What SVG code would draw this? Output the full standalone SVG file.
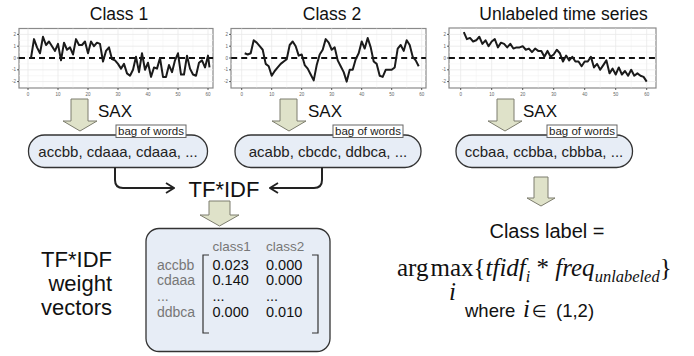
<svg xmlns="http://www.w3.org/2000/svg" width="694" height="356" viewBox="0 0 694 356">
<defs>
<style>
.title{font-family:"Liberation Sans",Arial,sans-serif;font-size:17.5px;fill:#111;text-anchor:middle}
.sax{font-family:"Liberation Sans",Arial,sans-serif;font-size:17px;fill:#111}
.bubble{fill:#e7edf6;stroke:#333;stroke-width:1.3}
.words{font-family:"Liberation Sans",Arial,sans-serif;font-size:15px;fill:#222;text-anchor:middle}
.bag{fill:#fff;stroke:#666;stroke-width:1}
.bagt{font-family:"Liberation Sans",Arial,sans-serif;font-size:11.5px;fill:#222;text-anchor:middle}
.blk{fill:#dfe2c9;stroke:#7d7d6e;stroke-width:1}
.conn{fill:none;stroke:#222;stroke-width:2}
.grid{fill:none;stroke:#e8e8e8;stroke-width:0.8;vector-effect:non-scaling-stroke}
.gridm{fill:none;stroke:#f3f3f3;stroke-width:0.6;vector-effect:non-scaling-stroke}
.zero{fill:none;stroke:#111;stroke-width:2;stroke-dasharray:6 4;vector-effect:non-scaling-stroke}
.ts{fill:none;stroke:#1a1a1a;stroke-width:2;stroke-linejoin:round;vector-effect:non-scaling-stroke}
.panel{fill:#fff;stroke:#8a8a8a;stroke-width:1.2}
.tick{font-family:"Liberation Sans",Arial,sans-serif;font-size:4.5px;fill:#666}
.tk{stroke:#333;stroke-width:0.8}
.big{font-family:"Liberation Sans",Arial,sans-serif;font-size:22px;fill:#111}
.mat{fill:#e7edf6;stroke:#333;stroke-width:1.3}
.hdr{font-family:"Liberation Sans",Arial,sans-serif;font-size:13.5px;fill:#777}
.rl{font-family:"Liberation Sans",Arial,sans-serif;font-size:14px;fill:#777}
.num{font-family:"Liberation Sans",Arial,sans-serif;font-size:14.5px;fill:#111}
.brk{fill:none;stroke:#333;stroke-width:1.2}
.lbl{font-family:"Liberation Sans",Arial,sans-serif;font-size:20px;fill:#111;text-anchor:middle}
.fx{font-family:"Liberation Serif","Times New Roman",serif;font-size:25px;fill:#111}
.wh{font-family:"Liberation Sans",Arial,sans-serif;font-size:18.5px;fill:#111}
</style>
<marker id="chev" viewBox="0 0 10 12" refX="9" refY="6" markerWidth="10" markerHeight="12" markerUnits="userSpaceOnUse" orient="auto">
<path d="M1,1 L9,6 L1,11" fill="none" stroke="#222" stroke-width="1.8"/>
</marker>
</defs>
<rect width="694" height="356" fill="#fff"/>

<!-- Plot 1 -->
<g id="plot1">
<text class="title" x="119" y="20">Class 1</text>
<rect class="panel" x="19" y="28.5" width="194" height="59.5"/>
<g transform="translate(28,58) scale(3,-11.8)">
<path class="gridm" d="M5,-2.5V2.5M15,-2.5V2.5M25,-2.5V2.5M35,-2.5V2.5M45,-2.5V2.5M55,-2.5V2.5M-3,1.5H61.7M-3,0.5H61.7M-3,-0.5H61.7M-3,-1.5H61.7"/>
<path class="grid" d="M0,-2.5V2.5M10,-2.5V2.5M20,-2.5V2.5M30,-2.5V2.5M40,-2.5V2.5M50,-2.5V2.5M60,-2.5V2.5M-3,2H61.7M-3,1H61.7M-3,-1H61.7M-3,-2H61.7"/>
<path class="zero" d="M-3,0H61.7"/>
<polyline class="ts" points="1,0 2,1.6 3,0.9 4,0.4 5,1.8 6,1.1 7,1.4 8,1.0 9,0.6 10,1.2 11,-0.2 12,1.3 13,0.7 14,0.9 15,0.3 16,1.6 17,1.1 18,1.1 19,1.4 20,0.4 21,1.4 22,1.0 23,1.3 24,1.2 25,-0.3 26,0.6 27,0.9 28,-0.1 29,-0.2 30,-0.5 31,-0.9 32,-0.5 33,-1.3 34,-1.5 35,-1.0 36,0.1 37,-1.2 38,0.4 39,-1.0 40,-0.4 41,-1.6 42,-0.8 43,-0.9 44,0.0 45,-1.6 46,-1.6 47,-0.6 48,-1.2 49,-0.2 50,0.4 51,-1.4 52,-1.4 53,0.2 54,-0.9 55,-1.4 56,-1.5 57,-0.4 58,-0.2 59,-0.8 60,0.2 60.5,-0.8"/>
</g>
<path class="tk" d="M28,88V90M58,88V90M88,88V90M118,88V90M148,88V90M178,88V90M208,88V90M17,34.4H19M17,46.2H19M17,58H19M17,69.8H19M17,81.6H19"/>
<g class="tick" text-anchor="middle"><text x="28" y="96">0</text><text x="58" y="96">10</text><text x="88" y="96">20</text><text x="118" y="96">30</text><text x="148" y="96">40</text><text x="178" y="96">50</text><text x="208" y="96">60</text></g>
<g class="tick" text-anchor="end"><text x="16" y="36">2</text><text x="16" y="47.8">1</text><text x="16" y="59.6">0</text><text x="16" y="71.4">-1</text><text x="16" y="83.2">-2</text></g>
</g>

<!-- Plot 2 -->
<g id="plot2">
<text class="title" x="332" y="20">Class 2</text>
<rect class="panel" x="231" y="28.5" width="195" height="59.5"/>
<g transform="translate(241.7,58) scale(3,-11.8)">
<path class="gridm" d="M5,-2.5V2.5M15,-2.5V2.5M25,-2.5V2.5M35,-2.5V2.5M45,-2.5V2.5M55,-2.5V2.5M-3.5,1.5H61.4M-3.5,0.5H61.4M-3.5,-0.5H61.4M-3.5,-1.5H61.4"/>
<path class="grid" d="M0,-2.5V2.5M10,-2.5V2.5M20,-2.5V2.5M30,-2.5V2.5M40,-2.5V2.5M50,-2.5V2.5M60,-2.5V2.5M-3.5,2H61.4M-3.5,1H61.4M-3.5,-1H61.4M-3.5,-2H61.4"/>
<path class="zero" d="M-3.5,0H61.4"/>
<polyline class="ts" points="1,0.4 2,0.3 3,0.4 4,1.5 5,1.3 6,1.0 7,0.7 8,-0.5 9,-0.7 10,-1.5 11,-1.1 12,-0.8 13,-0.5 14,-0.3 15,-0.1 16,1.1 17,1.4 18,1.0 19,0.2 20,0.3 21,-0.6 22,-0.9 23,-1.4 24,-1.9 25,-0.6 26,0.3 27,0.7 28,1.6 29,1.3 30,0.7 31,0.9 32,-0.2 33,-0.7 34,-1.2 35,-2.0 36,-1.0 37,-1.0 38,-0.1 39,0.4 40,1.4 41,0.8 42,1.7 43,0.9 44,-0.3 45,-0.5 46,-1.5 47,-1.6 48,-1.0 49,-1.0 50,-1.0 51,-0.8 52,0.8 53,1.1 54,0.6 55,1.5 56,1.1 57,0.1 58,-0.2 59,-0.7"/>
</g>
<path class="tk" d="M241.7,88V90M271.7,88V90M301.7,88V90M331.7,88V90M361.7,88V90M391.7,88V90M421.7,88V90M229,34.4H231M229,46.2H231M229,58H231M229,69.8H231M229,81.6H231"/>
<g class="tick" text-anchor="middle"><text x="241.7" y="96">0</text><text x="271.7" y="96">10</text><text x="301.7" y="96">20</text><text x="331.7" y="96">30</text><text x="361.7" y="96">40</text><text x="391.7" y="96">50</text><text x="421.7" y="96">60</text></g>
<g class="tick" text-anchor="end"><text x="228" y="36">2</text><text x="228" y="47.8">1</text><text x="228" y="59.6">0</text><text x="228" y="71.4">-1</text><text x="228" y="83.2">-2</text></g>
</g>

<!-- Plot 3 -->
<g id="plot3">
<text class="title" x="563.5" y="20">Unlabeled time series</text>
<rect class="panel" x="449" y="28" width="207" height="60"/>
<g transform="translate(460.7,58) scale(3.1,-11.8)">
<path class="gridm" d="M5,-2.5V2.5M15,-2.5V2.5M25,-2.5V2.5M35,-2.5V2.5M45,-2.5V2.5M55,-2.5V2.5M-3.8,1.5H63M-3.8,0.5H63M-3.8,-0.5H63M-3.8,-1.5H63"/>
<path class="grid" d="M0,-2.5V2.5M10,-2.5V2.5M20,-2.5V2.5M30,-2.5V2.5M40,-2.5V2.5M50,-2.5V2.5M60,-2.5V2.5M-3.8,2H63M-3.8,1H63M-3.8,-1H63M-3.8,-2H63"/>
<path class="zero" d="M-3.8,0H63"/>
<polyline class="ts" points="1,2.2 2,1.6 3,1.7 4,1.4 5,1.5 6,1.8 7,1.2 8,1.5 9,1.0 10,1.4 11,1.6 12,0.9 13,1.3 14,1.2 15,0.9 16,1.2 17,0.8 18,0.9 19,0.9 20,1.0 21,0.7 22,0.8 23,0.5 24,0.8 25,0.6 26,0.6 27,0.1 28,0.6 29,0.1 30,0.3 31,0.7 32,0.4 33,-0.3 34,0.2 35,-0.2 36,0.1 37,-0.3 38,-0.3 39,-0.7 40,-0.3 41,-0.3 42,0.1 43,-0.8 44,-0.5 45,-1.0 46,-0.6 47,-0.2 48,-1.3 49,-0.9 50,-1.4 51,-0.8 52,-1.4 53,-1.1 54,-1.5 55,-1.0 56,-1.5 57,-1.3 58,-1.5 59,-1.6 60,-2.0"/>
</g>
<path class="tk" d="M460.7,88V90M491.7,88V90M522.7,88V90M553.7,88V90M584.7,88V90M615.7,88V90M646.7,88V90M447,34.4H449M447,46.2H449M447,58H449M447,69.8H449M447,81.6H449"/>
<g class="tick" text-anchor="middle"><text x="460.7" y="96">0</text><text x="491.7" y="96">10</text><text x="522.7" y="96">20</text><text x="553.7" y="96">30</text><text x="584.7" y="96">40</text><text x="615.7" y="96">50</text><text x="646.7" y="96">60</text></g>
<g class="tick" text-anchor="end"><text x="446" y="36">2</text><text x="446" y="47.8">1</text><text x="446" y="59.6">0</text><text x="446" y="71.4">-1</text><text x="446" y="83.2">-2</text></g>
</g>

<!-- SAX arrows -->
<g id="sax1">
<path class="blk" d="M71,99H88V121H97L80,131L63,121H71Z"/>
<text class="sax" x="98" y="117">SAX</text>
</g>
<g id="sax2">
<path class="blk" d="M280,99H297V121H306L289,131L272,121H280Z"/>
<text class="sax" x="308" y="117">SAX</text>
</g>
<g id="sax3">
<path class="blk" d="M497,99H514V121H522L505,131L488,121H497Z"/>
<text class="sax" x="523" y="117">SAX</text>
</g>

<!-- Bubbles -->
<g id="bag1">
<rect class="bubble" x="28.5" y="135" width="179" height="32.5" rx="16"/>
<text class="words" x="118" y="157">accbb, cdaaa, cdaaa, ...</text>
<rect class="bag" x="116" y="125" width="70" height="12.5"/>
<text class="bagt" x="151" y="135">bag of words</text>
</g>
<g id="bag2">
<rect class="bubble" x="235" y="135" width="186" height="32.5" rx="16"/>
<text class="words" x="328" y="157">acabb, cbcdc, ddbca, ...</text>
<rect class="bag" x="333" y="125" width="70" height="12.5"/>
<text class="bagt" x="368" y="135">bag of words</text>
</g>
<g id="bag3">
<rect class="bubble" x="456" y="135" width="176.5" height="32.5" rx="16"/>
<text class="words" x="544" y="157">ccbaa, ccbba, cbbba, ...</text>
<rect class="bag" x="547" y="125" width="70" height="12.5"/>
<text class="bagt" x="582" y="135">bag of words</text>
</g>

<!-- Connectors -->
<g id="connectors">
<path class="conn" d="M115,167.5V180Q115,188 123,188H174" marker-end="url(#chev)"/>
<path class="conn" d="M322,167.5V180Q322,188 314,188H270" marker-end="url(#chev)"/>
</g>

<g id="tfidf">
<text class="big" x="224" y="197" text-anchor="middle">TF*IDF</text>
<path class="blk" d="M209,201H230V215H239L219.5,226L200,215H209Z"/>
</g>

<!-- Matrix -->
<g id="matrix">
<rect class="mat" x="146" y="228.5" width="184" height="123" rx="13"/>
<text class="hdr" x="212.5" y="251">class1</text>
<text class="hdr" x="266" y="251">class2</text>
<text class="rl" x="157" y="270">accbb</text>
<text class="rl" x="157" y="285">cdaaa</text>
<text class="rl" x="157" y="301">...</text>
<text class="rl" x="157" y="317">ddbca</text>
<path class="brk" d="M209,255H203V333H209M312,255H318V333H312"/>
<text class="num" x="212.5" y="270">0.023</text><text class="num" x="266" y="270">0.000</text>
<text class="num" x="212.5" y="285">0.140</text><text class="num" x="266" y="285">0.000</text>
<text class="num" x="212.5" y="301">...</text><text class="num" x="266" y="301">...</text>
<text class="num" x="212.5" y="317">0.000</text><text class="num" x="266" y="317">0.010</text>
</g>

<g id="weightlabel">
<text class="big" x="112" y="267" text-anchor="end">TF*IDF</text>
<text class="big" x="112" y="291" text-anchor="end">weight</text>
<text class="big" x="112" y="315" text-anchor="end">vectors</text>
</g>

<!-- Right side -->
<g id="classarrow">
<path class="blk" d="M534,177H548V198H555L541,206L527,198H534Z"/>
</g>
<g id="classlabel">
<text class="lbl" x="547" y="238">Class label =</text>
<text class="fx" x="397" y="276">arg<tspan dx="2">max</tspan><tspan>{</tspan><tspan font-style="italic">tfidf</tspan><tspan font-style="italic" font-size="16" dy="6">i</tspan><tspan dy="-6"> * </tspan><tspan font-style="italic">freq</tspan><tspan font-style="italic" font-size="16.5" dy="6">unlabeled</tspan><tspan dy="-6">}</tspan></text>
<text class="fx" x="449" y="300" font-size="15" font-style="italic">i</text>
<text class="wh" x="465" y="317">where</text>
<text class="fx" x="523" y="317" font-size="20" font-style="italic">i</text>
<text x="532" y="317" font-family="DejaVu Sans,sans-serif" font-size="17" fill="#111">∈</text>
<text class="wh" x="556" y="317">(1,2)</text>
</g>
</svg>
